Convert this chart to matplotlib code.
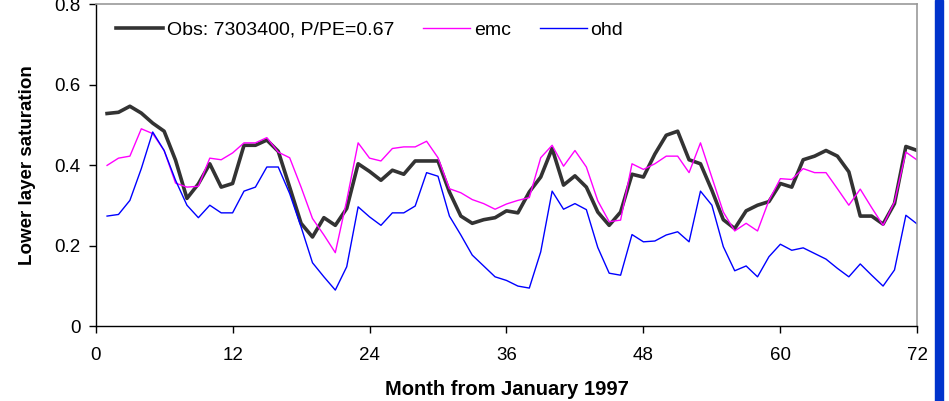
import matplotlib.pyplot as plt
from matplotlib.patches import Rectangle

plt.rcParams['font.family'] = ['Liberation Sans', 'DejaVu Sans']

months = list(range(1, 73))

obs = [0.529, 0.532, 0.547, 0.530, 0.505, 0.485, 0.413, 0.318, 0.354, 0.404, 0.346, 0.355,
       0.450, 0.450, 0.463, 0.435, 0.346, 0.256, 0.222, 0.270, 0.251, 0.293, 0.404, 0.385,
       0.363, 0.388, 0.378, 0.411, 0.411, 0.411, 0.334, 0.274, 0.256, 0.265, 0.270, 0.287,
       0.282, 0.334, 0.371, 0.442, 0.351, 0.374, 0.346, 0.284, 0.251, 0.284, 0.378, 0.371,
       0.428, 0.475, 0.485, 0.414, 0.404, 0.338, 0.265, 0.243, 0.287, 0.301, 0.310, 0.355,
       0.346, 0.414, 0.423, 0.437, 0.423, 0.384, 0.274, 0.274, 0.254, 0.305, 0.447, 0.437]

emc = [0.400, 0.418, 0.423, 0.491, 0.479, 0.437, 0.356, 0.346, 0.348, 0.418, 0.414, 0.431,
       0.456, 0.456, 0.469, 0.433, 0.419, 0.346, 0.268, 0.227, 0.183, 0.313, 0.456, 0.418,
       0.411, 0.442, 0.446, 0.446, 0.460, 0.419, 0.342, 0.332, 0.315, 0.305, 0.291, 0.304,
       0.313, 0.320, 0.419, 0.450, 0.398, 0.437, 0.396, 0.312, 0.260, 0.264, 0.404, 0.390,
       0.404, 0.423, 0.423, 0.382, 0.456, 0.370, 0.284, 0.237, 0.256, 0.237, 0.313, 0.367,
       0.365, 0.392, 0.382, 0.382, 0.342, 0.301, 0.341, 0.295, 0.251, 0.309, 0.433, 0.413]

ohd = [0.274, 0.278, 0.313, 0.392, 0.483, 0.437, 0.363, 0.301, 0.270, 0.301, 0.282, 0.282,
       0.336, 0.346, 0.396, 0.396, 0.330, 0.247, 0.158, 0.123, 0.090, 0.148, 0.297, 0.272,
       0.251, 0.282, 0.282, 0.299, 0.382, 0.373, 0.274, 0.227, 0.177, 0.150, 0.123, 0.114,
       0.100, 0.095, 0.185, 0.336, 0.291, 0.305, 0.290, 0.196, 0.132, 0.127, 0.228, 0.210,
       0.212, 0.227, 0.235, 0.210, 0.336, 0.301, 0.198, 0.138, 0.150, 0.123, 0.173, 0.204,
       0.189, 0.195, 0.181, 0.167, 0.144, 0.123, 0.155, 0.127, 0.100, 0.140, 0.276, 0.254]

xticks = [0, 12, 24, 36, 48, 60, 72]
yticks = [0, 0.2, 0.4, 0.6, 0.8]
ytick_labels = ['0', '0.2', '0.4', '0.6', '0.8']

fig = plt.figure(figsize=(9.49, 4.01), dpi=100)
ax = fig.add_axes([0.1008, 0.1863, 0.8658, 0.8025])

ax.plot(months, obs, color='#333333', lw=2.6, label='Obs: 7303400, P/PE=0.67')
ax.plot(months, emc, color='#ff00ff', lw=1.0, label='emc')
ax.plot(months, ohd, color='#0000ff', lw=1.0, label='ohd')

ax.set_xlim(0, 72)
ax.set_ylim(0, 0.8)
ax.set_xticks(xticks)
ax.set_yticks(yticks)
ax.set_yticklabels(ytick_labels)
ax.tick_params(direction='out', length=5, width=1, labelsize=13.5)
ax.tick_params(axis='x', pad=10)
ax.tick_params(axis='y', pad=6)

for side in ['top', 'right']:
    ax.spines[side].set_color('#999999')
    ax.spines[side].set_linewidth(1.2)
for side in ['left', 'bottom']:
    ax.spines[side].set_color('black')
    ax.spines[side].set_linewidth(1.0)

ax.set_xlabel('Month from January 1997', fontsize=14.5, fontweight='bold')
ax.set_ylabel('Lower layer saturation', fontsize=13.5, fontweight='bold')
ax.xaxis.set_label_coords(0.5, -0.168)
ax.yaxis.set_label_coords(-0.073, 0.5)

ax.legend(loc='center left', bbox_to_anchor=(0.0156, 0.921), ncol=3, frameon=False,
          fontsize=14, handlelength=2.4, handletextpad=0.2, columnspacing=1.5,
          borderaxespad=0.0)

# blue bar on the right edge of the slide
fig.patches.append(Rectangle((935 / 949, 0), 8 / 949, 1, transform=fig.transFigure,
                             color='#0033cc', zorder=0))

fig.savefig('out.png', dpi=100)
